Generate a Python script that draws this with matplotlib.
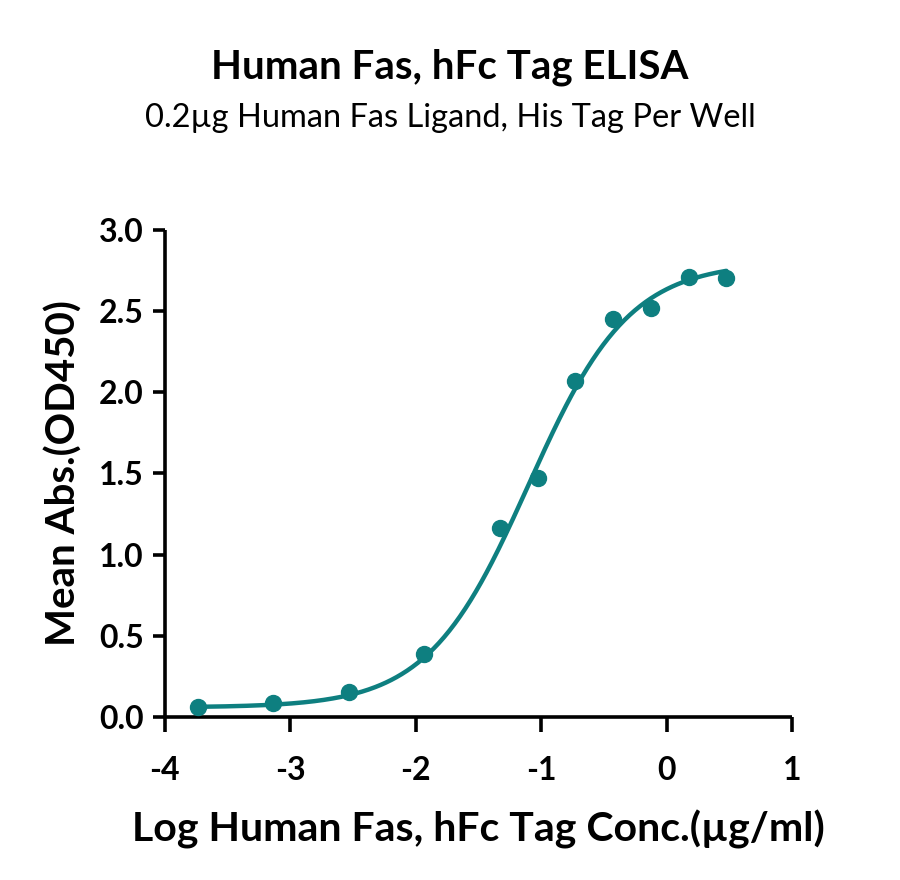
import numpy as np
import matplotlib
matplotlib.use("Agg")
import matplotlib.pyplot as plt

# Measured points (log10 conc in ug/ml, mean OD450)
log_conc = [-3.737, -3.135, -2.533, -1.931, -1.329, -1.028,
            -0.727, -0.426, -0.125, 0.176, 0.477]
mean_abs = [0.065, 0.086, 0.157, 0.39, 1.163, 1.469,
            2.07, 2.449, 2.52, 2.71, 2.70]

# 4PL fit parameters
FIT_BOTTOM = 0.06
FIT_TOP = 2.80
FIT_LOGEC50 = -1.10
FIT_HILL = 1.08

x_ticks = [-4, -3, -2, -1, 0, 1]
y_ticks = [0.0, 0.5, 1.0, 1.5, 2.0, 2.5, 3.0]

TEAL = "#0e7f80"
FONT = "Lato"

plt.rcParams["font.family"] = [FONT, "DejaVu Sans"]
plt.rcParams["font.weight"] = "bold"

fig = plt.figure(figsize=(9, 8.8), dpi=100)
ax = fig.add_axes([0.183, 0.185, 0.697, 0.554])

xf = np.linspace(min(log_conc), max(log_conc), 400)
yf = FIT_BOTTOM + (FIT_TOP - FIT_BOTTOM) / (1 + 10 ** (FIT_HILL * (FIT_LOGEC50 - xf)))
ax.plot(xf, yf, color=TEAL, lw=3.2, zorder=3, solid_capstyle="round")
ax.plot(log_conc, mean_abs, "o", color=TEAL, ms=11.5, zorder=4, clip_on=False)

ax.set_xlim(-4, 1)
ax.set_ylim(0, 3.0)
ax.set_xticks(x_ticks)
ax.set_xticklabels([f"{t:d}" for t in x_ticks])
ax.set_yticks(y_ticks)
ax.set_yticklabels([f"{t:.1f}" for t in y_ticks])

for side in ("top", "right"):
    ax.spines[side].set_visible(False)
for side in ("left", "bottom"):
    ax.spines[side].set_linewidth(2.6)
    ax.spines[side].set_capstyle("butt")
ax.tick_params(axis="both", width=2.6, labelsize=23)
ax.tick_params(axis="x", length=11, pad=17)
ax.tick_params(axis="y", length=9, pad=6)

ax.set_xlabel("Log Human Fas, hFc Tag Conc.(\u00b5g/ml)", fontsize=29.5,
              fontweight="bold", labelpad=18)
ax.set_ylabel("Mean Abs.(OD450)", fontsize=29, fontweight="bold", labelpad=12)

fig.text(0.5, 0.924, "Human Fas, hFc Tag ELISA", ha="center", va="center",
         fontsize=29, fontweight="bold")
fig.text(0.5, 0.866, "0.2\u00b5g Human Fas Ligand, His Tag Per Well",
         ha="center", va="center", fontsize=23.5, fontweight="normal")

fig.savefig("out.png", dpi=100)
